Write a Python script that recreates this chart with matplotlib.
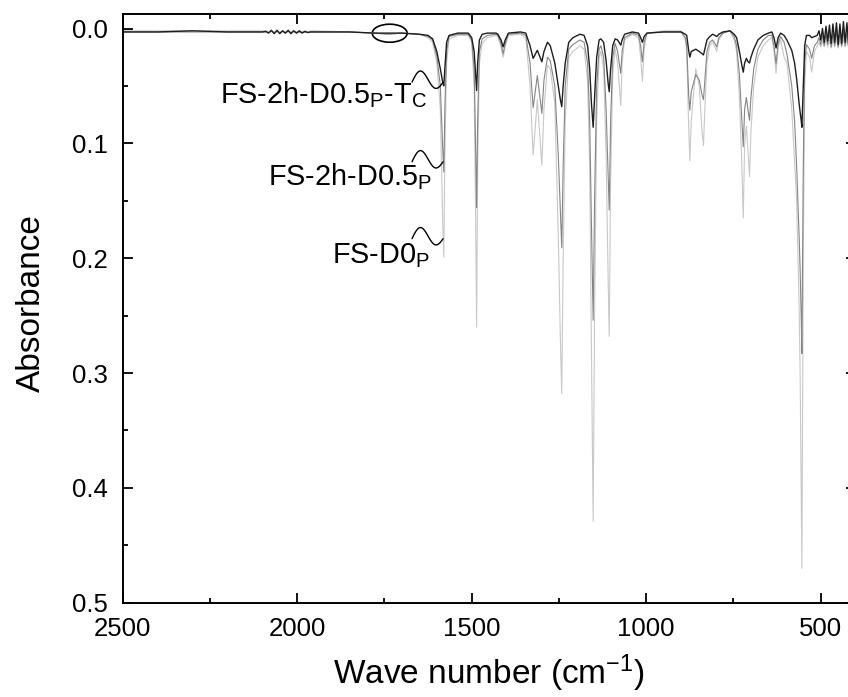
import matplotlib
matplotlib.use("Agg")
import matplotlib.pyplot as plt
import numpy as np
from matplotlib.patches import Ellipse
from matplotlib.ticker import MultipleLocator, FormatStrFormatter

plt.rcParams['font.family'] = ['Liberation Sans', 'DejaVu Sans']
plt.rcParams['mathtext.fontset'] = 'custom'
plt.rcParams['mathtext.rm'] = 'Liberation Sans'
plt.rcParams['mathtext.it'] = 'Liberation Sans:italic'

# wave numbers (cm-1), one line per spectral region
wavenumber = [
    2500, 2400, 2300, 2200, 2100,
    2090, 2082, 2074, 2066, 2058, 2050, 2042, 2034, 2026, 2018, 2010, 2002, 1994, 1986, 1978, 1970, 1962,
    1950, 1850, 1780, 1740, 1700, 1650, 1625,
    1612, 1600, 1590, 1583, 1580, 1577, 1572, 1565, 1540, 1510,
    1500, 1493, 1489, 1486, 1483, 1478, 1470, 1455, 1430,
    1425, 1416, 1410, 1404, 1395, 1360, 1345,
    1333, 1324, 1312, 1299, 1293, 1283, 1275, 1262, 1252, 1246, 1242, 1238, 1232, 1222, 1210, 1190, 1178,
    1168, 1162, 1157, 1152, 1148, 1142, 1135, 1130,
    1122, 1115, 1109, 1106, 1102, 1096, 1089,
    1082, 1076, 1073, 1069, 1062, 1040, 1022, 1016, 1011, 1006, 998, 950, 900, 888,
    884, 878, 875, 871, 858, 848, 840, 836, 832, 826, 818, 810, 803, 798, 792, 780, 760, 748,
    741, 733, 726, 722, 718, 713, 708, 704, 700, 692, 680, 665, 650, 640, 634, 628, 622, 615, 605,
    597, 583, 575, 569, 562, 559, 556, 554, 550, 546, 541, 532, 526, 518,
    510, 505, 500, 495, 490, 485, 480, 475, 470, 465, 460, 455, 450, 445, 440, 435, 430, 425, 420, 415, 410, 405, 400,
]

# FS-2h-D0.5P-TC (black)
abs_tc = [
    0.003, 0.003, 0.002, 0.003, 0.003,
    0.0025, 0.004, 0.0015, 0.0045, 0.0015, 0.0045, 0.002, 0.004, 0.0015, 0.0045, 0.002, 0.004, 0.002, 0.004, 0.0025, 0.0035, 0.003,
    0.003, 0.003, 0.004, 0.004, 0.004, 0.005, 0.006,
    0.009, 0.020, 0.035, 0.047, 0.050, 0.035, 0.012, 0.006, 0.004, 0.004,
    0.008, 0.020, 0.040, 0.054, 0.030, 0.010, 0.005, 0.004, 0.004,
    0.005, 0.010, 0.016, 0.010, 0.004, 0.003, 0.004,
    0.015, 0.026, 0.019, 0.029, 0.020, 0.012, 0.015, 0.030, 0.050, 0.062, 0.068, 0.050, 0.030, 0.012, 0.008, 0.005, 0.006,
    0.015, 0.035, 0.065, 0.086, 0.060, 0.025, 0.010, 0.009,
    0.012, 0.028, 0.048, 0.055, 0.035, 0.015, 0.009,
    0.010, 0.013, 0.0145, 0.010, 0.005, 0.003, 0.004, 0.008, 0.012, 0.007, 0.004, 0.003, 0.003, 0.005,
    0.006, 0.020, 0.025, 0.020, 0.018, 0.020, 0.022, 0.023, 0.018, 0.010, 0.007, 0.005, 0.006, 0.007, 0.005, 0.003, 0.002, 0.005,
    0.008, 0.020, 0.032, 0.038, 0.030, 0.026, 0.029, 0.030, 0.025, 0.018, 0.010, 0.006, 0.004, 0.003, 0.008, 0.017, 0.008, 0.004, 0.006,
    0.010, 0.019, 0.030, 0.044, 0.065, 0.073, 0.080, 0.086, 0.050, 0.015, 0.006, 0.006, 0.008, 0.007,
    0.006, 0.002, 0.010, 0.000, 0.012, -0.002, 0.011, -0.003, 0.013, -0.004, 0.012, -0.005, 0.014, -0.004, 0.013, -0.006, 0.012, -0.005, 0.014, -0.004, 0.012, -0.003, 0.010,
]

# FS-2h-D0.5P (grey)
abs_half = [
    0.003, 0.003, 0.003, 0.003, 0.003,
    0.003, 0.0035, 0.0025, 0.004, 0.0025, 0.004, 0.0025, 0.004, 0.0025, 0.004, 0.0025, 0.004, 0.003, 0.0035, 0.003, 0.0035, 0.003,
    0.003, 0.003, 0.004, 0.005, 0.004, 0.005, 0.007,
    0.010, 0.024, 0.050, 0.105, 0.125, 0.070, 0.020, 0.007, 0.005, 0.005,
    0.010, 0.035, 0.100, 0.156, 0.080, 0.020, 0.009, 0.006, 0.005,
    0.006, 0.013, 0.022, 0.013, 0.005, 0.004, 0.006,
    0.030, 0.069, 0.041, 0.074, 0.045, 0.025, 0.028, 0.050, 0.110, 0.160, 0.191, 0.120, 0.050, 0.018, 0.014, 0.010, 0.012,
    0.030, 0.080, 0.170, 0.254, 0.150, 0.050, 0.018, 0.015,
    0.025, 0.070, 0.130, 0.158, 0.080, 0.025, 0.013,
    0.020, 0.033, 0.039, 0.020, 0.008, 0.004, 0.006, 0.015, 0.029, 0.012, 0.004, 0.003, 0.003, 0.008,
    0.015, 0.060, 0.071, 0.055, 0.040, 0.045, 0.058, 0.062, 0.045, 0.020, 0.012, 0.010, 0.013, 0.016, 0.008, 0.004, 0.002, 0.007,
    0.015, 0.040, 0.080, 0.103, 0.070, 0.060, 0.072, 0.080, 0.060, 0.035, 0.018, 0.010, 0.006, 0.006, 0.015, 0.031, 0.013, 0.007, 0.012,
    0.022, 0.050, 0.080, 0.120, 0.180, 0.210, 0.250, 0.283, 0.120, 0.030, 0.014, 0.018, 0.026, 0.015,
    0.012, 0.008, 0.014, 0.006, 0.015, 0.005, 0.014, 0.004, 0.016, 0.004, 0.015, 0.003, 0.016, 0.004, 0.015, 0.003, 0.015, 0.004, 0.016, 0.004, 0.014, 0.005, 0.012,
]

# FS-D0P (light grey)
abs_d0 = [
    0.002, 0.002, 0.002, 0.002, 0.002,
    0.002, 0.003, 0.002, 0.003, 0.002, 0.003, 0.002, 0.003, 0.002, 0.003, 0.002, 0.003, 0.002, 0.003, 0.002, 0.003, 0.002,
    0.002, 0.003, 0.004, 0.005, 0.004, 0.005, 0.008,
    0.012, 0.030, 0.070, 0.170, 0.199, 0.110, 0.030, 0.009, 0.006, 0.006,
    0.012, 0.050, 0.160, 0.260, 0.120, 0.030, 0.013, 0.008, 0.006,
    0.007, 0.016, 0.025, 0.016, 0.006, 0.005, 0.008,
    0.050, 0.110, 0.062, 0.119, 0.070, 0.032, 0.035, 0.065, 0.180, 0.270, 0.318, 0.200, 0.080, 0.025, 0.020, 0.015, 0.018,
    0.045, 0.120, 0.280, 0.429, 0.250, 0.080, 0.025, 0.020,
    0.035, 0.110, 0.220, 0.268, 0.130, 0.040, 0.018,
    0.030, 0.055, 0.067, 0.030, 0.010, 0.005, 0.008, 0.025, 0.046, 0.018, 0.004, 0.002, 0.002, 0.010,
    0.020, 0.090, 0.115, 0.080, 0.035, 0.050, 0.090, 0.102, 0.070, 0.030, 0.015, 0.012, 0.016, 0.020, 0.010, 0.004, 0.002, 0.010,
    0.020, 0.060, 0.120, 0.165, 0.100, 0.085, 0.110, 0.129, 0.090, 0.050, 0.025, 0.015, 0.010, 0.008, 0.020, 0.039, 0.016, 0.010, 0.025,
    0.030, 0.070, 0.115, 0.150, 0.240, 0.300, 0.400, 0.470, 0.200, 0.050, 0.020, 0.025, 0.038, 0.020,
    0.015, 0.012, 0.016, 0.011, 0.016, 0.010, 0.016, 0.010, 0.017, 0.010, 0.016, 0.009, 0.017, 0.010, 0.016, 0.009, 0.016, 0.010, 0.017, 0.010, 0.015, 0.010, 0.014,
]

assert len(wavenumber) == len(abs_tc) == len(abs_half) == len(abs_d0)

series_names = [r'FS-2h-D0.5$_\mathrm{P}$-T$_\mathrm{C}$',
                r'FS-2h-D0.5$_\mathrm{P}$',
                r'FS-D0$_\mathrm{P}$']
series_values = [abs_tc, abs_half, abs_d0]
series_colors = ['#1e1e1e', '#858585', '#c8c8c8']
series_widths = [1.0, 0.8, 0.8]

# where each label's wiggle touches its spectrum, and where its text sits
label_hook = [(1582, 0.0467), (1582, 0.116), (1582, 0.183)]
label_text = [(1629, 0.065), (1615, 0.1365), (1619, 0.2043)]


def draw_wiggle(ax, x_end, y_end):
    s = np.linspace(0, 1, 80)
    x = x_end + 89 * (1 - s)
    y = y_end - 0.0075 * np.sin(2 * np.pi * s) - 0.003 * np.sin(np.pi * s)
    ax.plot(x, y, color='black', lw=1.0, solid_capstyle='round')


fig = plt.figure(figsize=(8.48, 6.97), dpi=100)
ax = fig.add_axes([0.1447, 0.1353, 0.8643, 0.8439])

# light spectra first so the black one stays on top
for vals, col, lw in reversed(list(zip(series_values, series_colors, series_widths))):
    ax.plot(wavenumber, vals, color=col, lw=lw)

for name, (hx, hy), (tx, ty) in zip(series_names, label_hook, label_text):
    draw_wiggle(ax, hx, hy)
    ax.text(tx, ty, name, fontsize=20.8, ha='right', va='baseline')

ax.add_patch(Ellipse((1735, 0.0041), 100, 0.0157, fill=False,
                     edgecolor='black', lw=1.2))

ax.set_xlim(2500, 400)
ax.set_ylim(0.5, -0.0122)

ax.xaxis.set_major_locator(MultipleLocator(500))
ax.xaxis.set_minor_locator(MultipleLocator(250))
ax.yaxis.set_major_locator(MultipleLocator(0.1))
ax.yaxis.set_minor_locator(MultipleLocator(0.05))
ax.yaxis.set_major_formatter(FormatStrFormatter('%.1f'))

ax.tick_params(which='both', direction='in', top=True, right=True,
               width=1.3, labelsize=18.5)
ax.tick_params(which='major', length=7)
ax.tick_params(which='minor', length=3.5)
ax.tick_params(axis='x', pad=10)
ax.tick_params(axis='y', pad=11)
for sp in ax.spines.values():
    sp.set_linewidth(1.4)

ax.set_xlabel(r'Wave number (cm$^{-1}$)', fontsize=24, va='center')
ax.xaxis.set_label_coords(0.5, -0.12)
ax.set_ylabel('Absorbance', fontsize=24, va='center')
ax.yaxis.set_label_coords(-0.124, 0.51)

fig.savefig('out.png', dpi=100)
